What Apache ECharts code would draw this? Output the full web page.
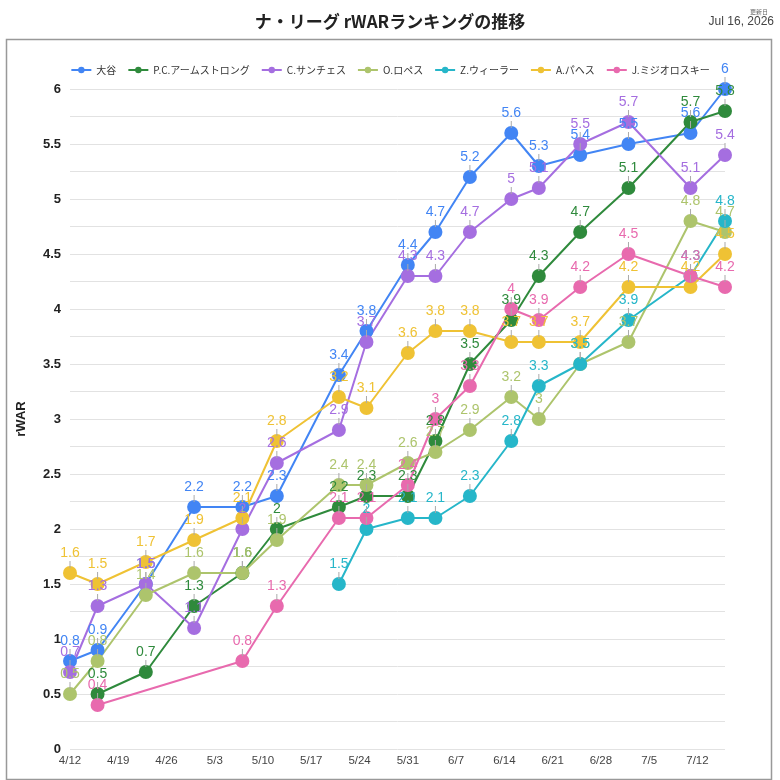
<!DOCTYPE html>
<html>
<head>
<meta charset="utf-8">
<script src="https://cdn.jsdelivr.net/npm/echarts@6/dist/echarts.min.js"></script>
<style>
  html, body { margin: 0; padding: 0; background: #fff; }
  #container { width: 780px; height: 780px; }
</style>
</head>
<body>
<div id="container"></div>
<script>
var dates = ['2026-04-12', '2026-04-16', '2026-04-23', '2026-04-30', '2026-05-07', '2026-05-12',
    '2026-05-21', '2026-05-25', '2026-05-31', '2026-06-04', '2026-06-09', '2026-06-15',
    '2026-06-19', '2026-06-25', '2026-07-02', '2026-07-11', '2026-07-16'];

var names = ['大谷', 'P.C.アームストロング', 'C.サンチェス', 'O.ロペス', 'Z.ウィーラー', 'A.パヘス', 'J.ミジオロスキー'];
var colors = ['#4285f4', '#2f8a3c', '#a56ee0', '#adc46c', '#26b6c9', '#efc234', '#e86aae'];

var ohtani    = [0.8, 0.9, 1.5, 2.2, 2.2, 2.3, 3.4, 3.8, 4.4, 4.7, 5.2, 5.6, 5.3, 5.4, 5.5, 5.6, 6.0];
var armstrong = [null, 0.5, 0.7, 1.3, 1.6, 2.0, 2.2, 2.3, 2.3, 2.8, 3.5, 3.9, 4.3, 4.7, 5.1, 5.7, 5.8];
var sanchez   = [0.7, 1.3, 1.5, 1.1, 2.0, 2.6, 2.9, 3.7, 4.3, 4.3, 4.7, 5.0, 5.1, 5.5, 5.7, 5.1, 5.4];
var lopez     = [0.5, 0.8, 1.4, 1.6, 1.6, 1.9, 2.4, 2.4, 2.6, 2.7, 2.9, 3.2, 3.0, 3.5, 3.7, 4.8, 4.7];
var wheeler   = [null, null, null, null, null, null, 1.5, 2.0, 2.1, 2.1, 2.3, 2.8, 3.3, 3.5, 3.9, 4.3, 4.8];
var pages     = [1.6, 1.5, 1.7, 1.9, 2.1, 2.8, 3.2, 3.1, 3.6, 3.8, 3.8, 3.7, 3.7, 3.7, 4.2, 4.2, 4.5];
var misio     = [null, 0.4, null, null, 0.8, 1.3, 2.1, 2.1, 2.4, 3.0, 3.3, 4.0, 3.9, 4.2, 4.5, 4.3, 4.2];

var seriesValues = [ohtani, armstrong, sanchez, lopez, wheeler, pages, misio];

var DAY = 86400000;
var start = Date.UTC(2026, 3, 12);
function dayOf(s) {
    var p = s.split('-');
    return Math.round((Date.UTC(+p[0], +p[1] - 1, +p[2]) - start) / DAY);
}
function dayLabel(d) {
    var dt = new Date(start + d * DAY);
    return (dt.getUTCMonth() + 1) + '/' + dt.getUTCDate();
}

var days = dates.map(dayOf);
var cjk = "Arial, 'Liberation Sans', 'Noto Sans CJK JP', sans-serif";

var series = seriesValues.map(function (vals, i) {
    var data = [];
    vals.forEach(function (v, k) {
        if (v !== null) data.push([days[k], v]);
    });
    return {
        name: names[i],
        type: 'line',
        data: data,
        symbol: 'circle',
        symbolSize: 14,
        color: colors[i],
        lineStyle: { width: 2 },
        label: {
            show: true,
            position: 'top',
            distance: -2,
            formatter: function (p) { return '{v|' + p.value[1] + '}\n{s|}'; },
            rich: {
                v: { fontSize: 14, lineHeight: 15, color: colors[i], fontFamily: cjk, align: 'center' },
                s: { width: 1, height: 7, backgroundColor: '#aaa', align: 'center' }
            }
        },
        emphasis: { disabled: true }
    };
});

var dom = document.getElementById('container');
var myChart = echarts.init(dom, null, { renderer: 'canvas' });

option = {
    backgroundColor: '#fff',
    animation: false,
    title: {
        text: 'ナ・リーグ rWARランキングの推移',
        left: 'center',
        top: 8,
        textStyle: { fontSize: 17, fontWeight: 'bold', color: '#222', fontFamily: "'Noto Sans CJK JP', sans-serif" }
    },
    graphic: [
        {
            type: 'rect',
            shape: { x: 6.5, y: 39.5, width: 765, height: 740 },
            style: { fill: 'none', stroke: '#999', lineWidth: 1.5 },
            z: -1
        },
        {
            type: 'text',
            right: 12,
            top: 9,
            style: { text: '更新日', fontSize: 6, fill: '#666', fontFamily: "'Noto Sans CJK JP', sans-serif" }
        },
        {
            type: 'text',
            right: 6,
            top: 16,
            style: { text: 'Jul 16, 2026', fontSize: 12, fill: '#444', fontFamily: cjk }
        }
    ],
    legend: {
        top: 60,
        left: 'center',
        itemWidth: 20,
        itemHeight: 8,
        itemGap: 11,
        textStyle: { fontSize: 10, color: '#333', fontFamily: "'Noto Sans CJK JP', sans-serif" },
        data: names
    },
    grid: { left: 70, right: 55, top: 89, bottom: 31, containLabel: false },
    xAxis: {
        type: 'value',
        min: 0,
        max: days[days.length - 1],
        interval: 7,
        axisLine: { show: false },
        axisTick: { show: false },
        splitLine: { show: false },
        axisLabel: {
            showMaxLabel: false,
            margin: 6,
            fontSize: 11.5,
            color: '#444',
            fontFamily: cjk,
            formatter: function (v) { return dayLabel(v); }
        }
    },
    yAxis: {
        type: 'value',
        name: 'rWAR',
        nameLocation: 'middle',
        nameGap: 42,
        nameTextStyle: { fontSize: 13, fontWeight: 'bold', color: '#222', fontFamily: cjk },
        min: 0,
        max: 6,
        interval: 0.25,
        axisLine: { show: false },
        axisTick: { show: false },
        splitLine: { lineStyle: { color: '#e2e2e2', width: 1 } },
        axisLabel: {
            margin: 9,
            fontSize: 13,
            fontWeight: 'bold',
            color: '#222',
            fontFamily: cjk,
            formatter: function (v) {
                return (Math.round(v * 100) % 50 === 0) ? String(v) : '';
            }
        }
    },
    series: series
};
myChart.setOption(option);

window.addEventListener('resize', function () {
    myChart.resize();
});
</script>
</body>
</html>
